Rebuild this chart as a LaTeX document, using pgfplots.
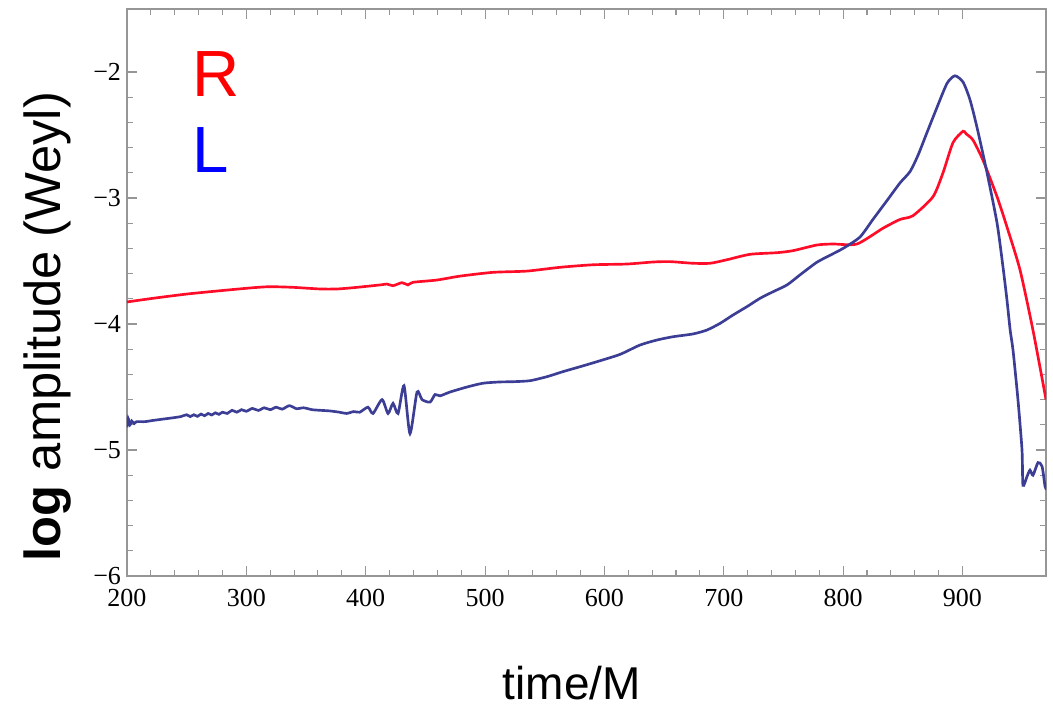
\documentclass[border=0pt]{standalone}
\usepackage{fontspec}
\setmainfont{Liberation Serif}
\newfontfamily\hv{Liberation Sans}
\usepackage{pgfplots}
\pgfplotsset{compat=1.18}

\definecolor{rcol}{RGB}{255,12,40}
\definecolor{lcol}{RGB}{60,62,150}
\definecolor{framegray}{RGB}{150,150,150}

\begin{document}
\begin{tikzpicture}
\path[use as bounding box] (-95.25pt,-98.25pt) rectangle (694.5pt,432pt);
\begin{axis}[
  at={(0,0)}, anchor=south west,
  scale only axis,
  width=689.25pt, height=425.25pt,
  xmin=200, xmax=970, ymin=-6, ymax=-1.5,
  xtick={200,300,...,900},
  ytick={-6,-5,-4,-3,-2},
  yticklabels={−6,−5,−4,−3,−2},
  minor x tick num=4,
  minor y tick num=4,
  tick align=inside,
  major tick length=7.5pt,
  minor tick length=4.5pt,
  axis line style={framegray, line width=0.8pt},
  every tick/.style={framegray, line width=0.8pt},
  /pgf/number format/assume math mode=true,
  /pgf/number format/1000 sep={},
  tick label style={font=\fontsize{19.5}{22}\selectfont},
  xticklabel style={yshift=-6pt},
  yticklabel style={xshift=-1pt},
  xlabel={\hv time/M},
  ylabel={\hv\textbf{log} amplitude (Weyl)},
  xlabel style={font=\fontsize{34.5}{40}\selectfont, at={(rel axis cs:0.484,-0.2175)}, anchor=base, inner sep=0pt},
  ylabel style={font=\fontsize{38}{44}\selectfont, at={(rel axis cs:-0.087,0.44)}, anchor=center, inner sep=0pt},
  clip=true,
]
% right-handed mode
\addplot[rcol, line width=2pt, smooth, tension=0.4] coordinates {
(200,-3.825) (221.8,-3.796) (250.3,-3.762) (277.9,-3.736) (305.6,-3.712)
(319.8,-3.704) (339.1,-3.709) (361.7,-3.722) (376,-3.722) (389.4,-3.712)
(412,-3.69) (417.8,-3.683) (422.9,-3.696) (430.4,-3.672) (435.4,-3.69)
(439.6,-3.669) (459.7,-3.651) (479,-3.62) (506.7,-3.59) (535.1,-3.58)
(562.8,-3.55) (590.4,-3.53) (618.9,-3.524) (640.7,-3.508) (655,-3.505)
(674.2,-3.518) (688.5,-3.518) (702.7,-3.49) (722,-3.447) (744.6,-3.434)
(758,-3.418) (778.1,-3.373) (791.5,-3.365) (811.6,-3.365) (833.4,-3.24)
(847.7,-3.17) (858.6,-3.14) (875.3,-2.99) (883.7,-2.80) (892.1,-2.56)
(900.5,-2.47) (903,-2.49) (908.8,-2.54) (917.2,-2.70) (929,-2.99)
(937.3,-3.23) (948.2,-3.57) (959.1,-4.05) (970,-4.60)
};
% left-handed mode
\addplot[lcol, line width=2pt, smooth, tension=0.4] coordinates {
(200,-4.82) (201,-4.75) (202.5,-4.80) (204,-4.77) (206,-4.79) (208,-4.775)
(215,-4.775) (222,-4.765) (230,-4.755) (238,-4.745) (245,-4.735)
(250,-4.72) (253,-4.735) (256,-4.72) (259,-4.733) (262,-4.715) (265,-4.728)
(268,-4.71) (271,-4.722) (274,-4.705) (277,-4.717) (280,-4.70) (284,-4.71)
(288,-4.685) (292,-4.70) (296,-4.68) (300,-4.693) (305,-4.67) (310,-4.686)
(315,-4.665) (320,-4.68) (325,-4.66) (330,-4.676) (336,-4.648) (342,-4.672)
(348,-4.665) (355,-4.68) (362,-4.685) (370,-4.69) (378,-4.70) (384,-4.71)
(390,-4.695) (395,-4.70) (401.9,-4.66) (406.1,-4.71) (413.7,-4.60)
(418.7,-4.71) (422.9,-4.63) (427.1,-4.71) (432.1,-4.49) (437.1,-4.87)
(443,-4.54) (447.2,-4.60) (453.9,-4.62) (458.1,-4.56) (462.3,-4.57)
(470.6,-4.54) (484.9,-4.50) (498.3,-4.47) (512.5,-4.46) (523.4,-4.458)
(537.7,-4.45) (551.9,-4.418) (565.3,-4.378) (579.6,-4.339) (593.8,-4.299)
(613.1,-4.241) (629.8,-4.167) (644.1,-4.127) (657.5,-4.101) (674.2,-4.079)
(685.9,-4.048) (696.9,-3.995) (707.7,-3.929) (719.5,-3.862) (730.4,-3.796)
(741.3,-3.744) (753,-3.690) (763.9,-3.61) (778,-3.51) (790,-3.45)
(800,-3.40) (814.1,-3.31) (825,-3.17) (836.8,-3.02) (847.7,-2.88)
(856.1,-2.79) (862.8,-2.66) (870.3,-2.48) (878.7,-2.28) (887.1,-2.09)
(893.7,-2.03) (900.5,-2.08) (906.3,-2.22) (912.2,-2.44) (920.6,-2.80)
(929,-3.20) (934,-3.55) (937.3,-3.81) (940,-4.05) (942.4,-4.21)
(946.5,-4.60) (949.9,-5.0) (950.7,-5.28) (954.1,-5.21) (956.6,-5.16)
(959.1,-5.20) (963.3,-5.10) (966.7,-5.13) (969.2,-5.29) (970,-5.30)
};
\node[anchor=base west, inner sep=0pt, text=red, font=\hv\fontsize{49}{52}\selectfont] at (axis cs:255,-2.198) {R};
\node[anchor=base west, inner sep=0pt, text=blue, font=\hv\fontsize{49}{52}\selectfont] at (axis cs:255,-2.80) {L};
\end{axis}
\end{tikzpicture}
\end{document}
